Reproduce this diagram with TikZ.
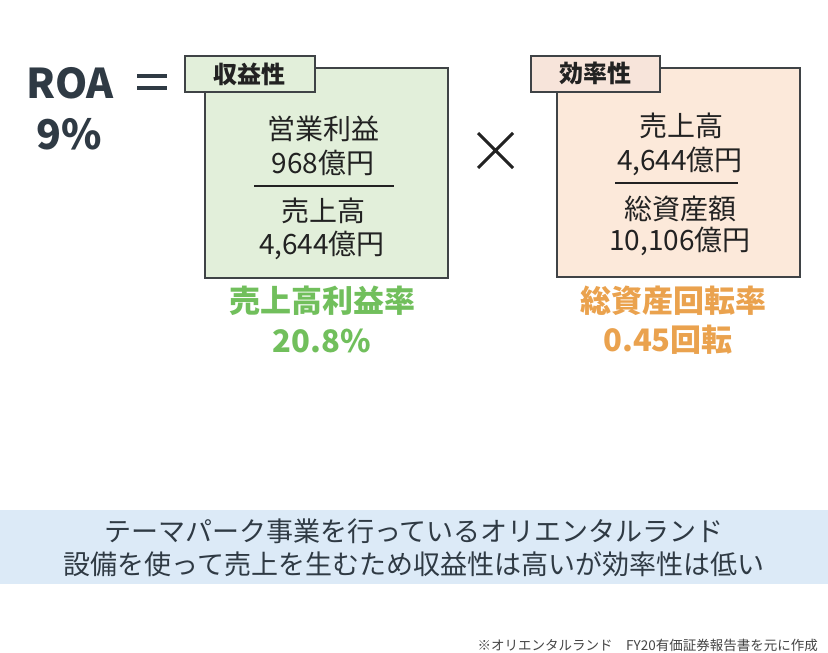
\documentclass[tikz,border=0pt]{standalone}
\usepackage{fontspec}
\setmainfont{Noto Sans CJK JP}
\definecolor{ink}{HTML}{2F3A44}
\definecolor{boxtxt}{HTML}{222222}
\definecolor{frame}{HTML}{3F4346}
\definecolor{gfill}{HTML}{E2EFDA}
\definecolor{ofill}{HTML}{FCE9DA}
\definecolor{otab}{HTML}{F7E4DA}
\definecolor{gtxt}{HTML}{71BF5C}
\definecolor{otxt}{HTML}{EAA24E}
\definecolor{band}{HTML}{DCEAF7}
\definecolor{note}{HTML}{444444}
\tikzset{
  panel/.style={draw=frame, line width=1.8pt, anchor=north west, inner sep=0pt},
  tabbox/.style={draw=frame, line width=1.8pt, anchor=north west, inner sep=0pt, minimum height=36pt,
                 font=\fontsize{24}{26}\selectfont\bfseries, text=boxtxt},
  inner/.style={anchor=base, inner sep=0pt, font=\fontsize{28}{30}\selectfont, text=boxtxt},
  ratio/.style={anchor=base, inner sep=0pt, font=\fontsize{31}{34}\selectfont\bfseries},
  roa/.style={anchor=base, inner sep=0pt, font=\fontsize{41}{44}\selectfont\bfseries, text=ink},
  bandtxt/.style={anchor=base, inner sep=0pt, font=\fontsize{27}{30}\selectfont, text=ink},
  divider/.style={draw=boxtxt, line width=1.3pt},
}
\begin{document}
\begin{tikzpicture}[x=1pt, y=-1pt]
\useasboundingbox (0,0) rectangle (828,653);
% ROA
\node[roa] (roa) at (70,98) {ROA};
\node[roa] (pct) at (69,149) {9\%};
% equals
\coordinate (e1a) at (137,76); \coordinate (e1b) at (167,76);
\coordinate (e2a) at (137,88); \coordinate (e2b) at (167,88);
\draw[ink, line width=3.6pt] (e1a) -- (e1b) (e2a) -- (e2b);
% green panel
\node[panel, fill=gfill, minimum width=243pt, minimum height=210pt] (gbox) at (204,67) {};
\node[tabbox, fill=gfill, minimum width=130pt] (gtab) at (184,55) {収益性};
\node[inner] (g1) at (323,139.6) {営業利益};
\node[inner] (g2) at (323,173) {968億円};
\coordinate (gl1) at (254,186); \coordinate (gl2) at (394,186);
\draw[divider] (gl1) -- (gl2);
\node[inner] (g3) at (323,221.6) {売上高};
\node[inner] (g4) at (322,254.6) {4,644億円};
\node[ratio, text=gtxt] (gr1) at (322,312) {売上高利益率};
\node[ratio, text=gtxt] (gr2) at (322,352) {20.8\%};
% times
\coordinate (x1) at (478,133); \coordinate (x2) at (513,168);
\coordinate (x3) at (478,168); \coordinate (x4) at (513,133);
\draw[boxtxt, line width=3pt] (x1) -- (x2) (x3) -- (x4);
% orange panel
\node[panel, fill=ofill, minimum width=243pt, minimum height=209pt] (obox) at (556,67) {};
\node[tabbox, fill=otab, minimum width=129pt] (otab) at (530,55) {効率性};
\node[inner] (o1) at (681,136.6) {売上高};
\node[inner] (o2) at (680,170) {4,644億円};
\coordinate (ol1) at (615,183); \coordinate (ol2) at (738,183);
\draw[divider] (ol1) -- (ol2);
\node[inner] (o3) at (680,219) {総資産額};
\node[inner] (o4) at (680,250.6) {10,106億円};
\node[ratio, text=otxt] (or1) at (673,312) {総資産回転率};
\node[ratio, text=otxt] (or2) at (668,351) {0.45回転};
% band
\fill[band] (0,510) rectangle (828,584);
\node[bandtxt] (b1) at (414,541) {テーマパーク事業を行っているオリエンタルランド};
\node[bandtxt] (b2) at (414,574) {設備を使って売上を生むため収益性は高いが効率性は低い};
% footnote
\node[anchor=base east, inner sep=0pt, font=\fontsize{13.5}{15}\selectfont, text=note] (fn) at (818,650) {※オリエンタルランド　FY20有価証券報告書を元に作成};
\end{tikzpicture}
\end{document}
